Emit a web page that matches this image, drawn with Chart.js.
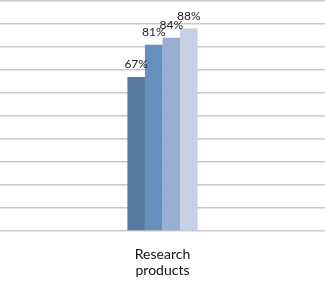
<!DOCTYPE html>
<html><head><meta charset="utf-8">
<script src="https://cdn.jsdelivr.net/npm/chart.js@4/dist/chart.umd.min.js"></script>
<style>html,body{margin:0;padding:0;background:#fff;}#wrap{width:325px;height:284px;}</style>
</head><body><div id="wrap"><canvas id="c"></canvas></div>
<script>
const categories = [["Research", "products"]];
const seriesNames = ["S1", "S2", "S3", "S4"];
const seriesValues = [[67], [81], [84], [88]];
const seriesColors = ["#57799F", "#6590BE", "#99AFD2", "#C6D1E5"];
const yTicks = [0, 10, 20, 30, 40, 50, 60, 70, 80, 90, 100];

const labelPlugin = {
  id: 'vlabels',
  afterDatasetsDraw(chart) {
    const ctx = chart.ctx;
    ctx.save();
    ctx.font = '12px Lato, "Liberation Sans", sans-serif';
    ctx.fillStyle = '#222';
    ctx.textAlign = 'center';
    ctx.textBaseline = 'middle';
    chart.data.datasets.forEach((ds, i) => {
      chart.getDatasetMeta(i).data.forEach((el, j) => {
        ctx.fillText(ds.data[j] + '%', el.x, el.y - 12.5);
      });
    });
    ctx.restore();
  }
};

new Chart(document.getElementById('c'), {
  type: 'bar',
  data: {
    labels: categories,
    datasets: seriesNames.map((n, i) => ({
      label: n, data: seriesValues[i], backgroundColor: seriesColors[i],
      borderWidth: 0, barPercentage: 1, categoryPercentage: 0.216
    }))
  },
  options: {
    responsive: true, maintainAspectRatio: false, animation: false,
    layout: { padding: { top: 1, left: 0, right: 0, bottom: 0 } },
    plugins: { legend: { display: false }, tooltip: { enabled: false } },
    scales: {
      x: {
        grid: { display: false, drawTicks: false },
        border: { display: false },
        afterFit: (s) => { s.height = 53; },
        ticks: { color: '#111', padding: 15, font: { size: 14, family: 'Lato, "Liberation Sans", sans-serif', lineHeight: 1.15 } }
      },
      y: {
        min: yTicks[0], max: yTicks[yTicks.length - 1],
        afterBuildTicks: (s) => { s.ticks = yTicks.map(v => ({ value: v })); },
        afterFit: (s) => { s.width = 0; },
        grid: { color: '#c9c9c9', lineWidth: 1.6, drawTicks: false },
        border: { display: false },
        ticks: { display: false }
      }
    }
  },
  plugins: [labelPlugin]
});
</script></body></html>
